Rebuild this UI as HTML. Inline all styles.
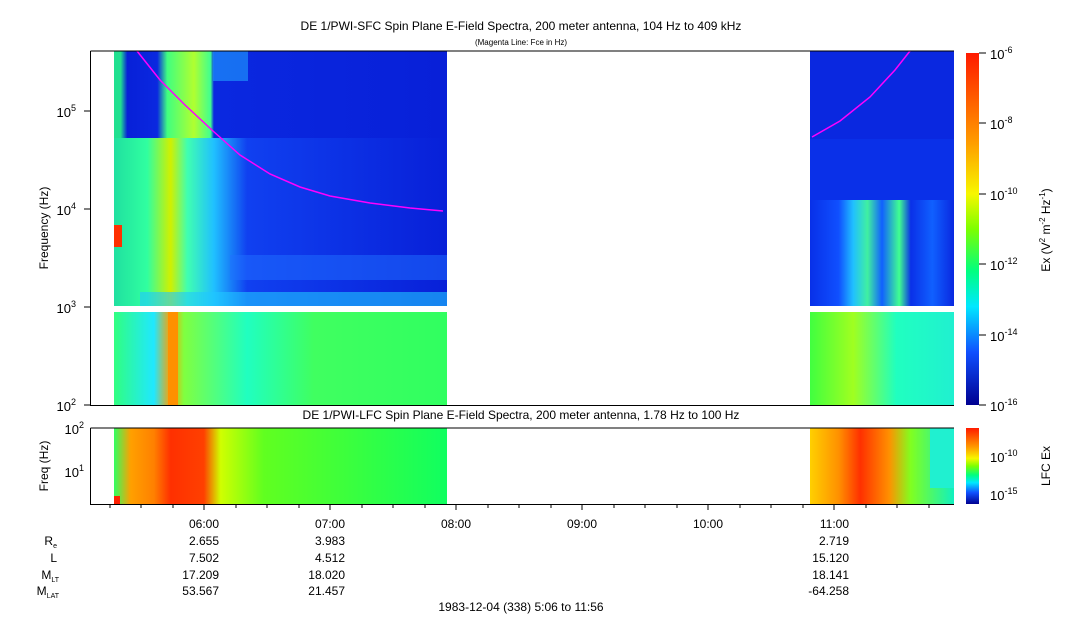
<!DOCTYPE html>
<html><head><meta charset="utf-8"><style>
body{margin:0;background:#fff;}
svg text{font-family:"Liberation Sans",sans-serif;fill:#000;}
</style></head><body>
<svg width="1083" height="620" viewBox="0 0 1083 620" xmlns="http://www.w3.org/2000/svg">
<defs>
<linearGradient id="cb" x1="0" y1="0" x2="0" y2="1">
<stop offset="0" stop-color="#ff1a00"/><stop offset="0.25" stop-color="#ff9a00"/>
<stop offset="0.4" stop-color="#f7f700"/><stop offset="0.5" stop-color="#7dff00"/>
<stop offset="0.62" stop-color="#00ff80"/><stop offset="0.72" stop-color="#00e8ff"/>
<stop offset="0.85" stop-color="#1050ff"/><stop offset="1" stop-color="#000090"/></linearGradient>
<linearGradient id="lowL" x1="0" y1="0" x2="1" y2="0">
<stop offset="0" stop-color="#30ff60"/><stop offset="0.05" stop-color="#ffa000"/><stop offset="0.12" stop-color="#ff8000"/>
<stop offset="0.17" stop-color="#ff3000"/><stop offset="0.27" stop-color="#ff4000"/><stop offset="0.32" stop-color="#d0ff00"/>
<stop offset="0.45" stop-color="#60ff20"/><stop offset="1" stop-color="#10ff60"/></linearGradient>
<linearGradient id="lowR" x1="0" y1="0" x2="1" y2="0">
<stop offset="0" stop-color="#ffd000"/><stop offset="0.2" stop-color="#ff9000"/><stop offset="0.35" stop-color="#ff3000"/>
<stop offset="0.55" stop-color="#ff9000"/><stop offset="0.7" stop-color="#80ff20"/><stop offset="1" stop-color="#10f0c0"/></linearGradient>
<linearGradient id="midL" x1="0" y1="0" x2="1" y2="0">
<stop offset="0" stop-color="#20e0a0"/><stop offset="0.1" stop-color="#30ffa0"/><stop offset="0.17" stop-color="#d0f000"/>
<stop offset="0.22" stop-color="#40ffb0"/><stop offset="0.3" stop-color="#20c0ff"/><stop offset="0.4" stop-color="#1040f0"/><stop offset="1" stop-color="#0820d8"/></linearGradient>
<linearGradient id="botL" x1="0" y1="0" x2="1" y2="0">
<stop offset="0" stop-color="#30ff80"/><stop offset="0.12" stop-color="#20e8ff"/><stop offset="0.17" stop-color="#ffa000"/>
<stop offset="0.21" stop-color="#80ff40"/><stop offset="0.4" stop-color="#20ffc0"/><stop offset="0.6" stop-color="#40ff60"/><stop offset="1" stop-color="#30ff60"/></linearGradient>
<linearGradient id="botR" x1="0" y1="0" x2="1" y2="0">
<stop offset="0" stop-color="#40ff40"/><stop offset="0.3" stop-color="#a0ff20"/><stop offset="0.6" stop-color="#20ffc0"/><stop offset="1" stop-color="#20f0d0"/></linearGradient>
<linearGradient id="topL" x1="0" y1="0" x2="1" y2="0">
<stop offset="0" stop-color="#20e090"/><stop offset="0.02" stop-color="#20e090"/><stop offset="0.04" stop-color="#0820d8"/><stop offset="0.13" stop-color="#0a28e0"/>
<stop offset="0.16" stop-color="#40ff80"/><stop offset="0.24" stop-color="#b0ff30"/><stop offset="0.29" stop-color="#40ff90"/><stop offset="0.3" stop-color="#0a28e0"/><stop offset="1" stop-color="#0820d8"/></linearGradient>
<linearGradient id="midR" x1="0" y1="0" x2="1" y2="0">
<stop offset="0" stop-color="#0830e8"/><stop offset="0.2" stop-color="#1050ff"/><stop offset="0.3" stop-color="#20c0ff"/><stop offset="0.4" stop-color="#40f0a0"/>
<stop offset="0.5" stop-color="#1060ff"/><stop offset="0.62" stop-color="#40ff90"/><stop offset="0.7" stop-color="#0a30e8"/><stop offset="0.85" stop-color="#1060ff"/><stop offset="1" stop-color="#0a28e0"/></linearGradient>
</defs>
<text x="521" y="30" font-size="12" text-anchor="middle">DE 1/PWI-SFC  Spin Plane E-Field Spectra, 200 meter antenna, 104 Hz to 409 kHz</text>
<text x="521" y="45" font-size="8" text-anchor="middle">(Magenta Line: Fce in Hz)</text>
<rect x="114" y="51" width="333" height="87" fill="url(#topL)"/>
<rect x="213" y="51" width="35" height="30" fill="#20a0ff" opacity="0.6"/>
<rect x="114" y="138" width="333" height="168" fill="url(#midL)"/>
<rect x="230" y="255" width="217" height="25" fill="#2070ff" opacity="0.5"/>
<rect x="140" y="292" width="307" height="14" fill="#20c8ff" opacity="0.6"/>
<rect x="114" y="225" width="8" height="22" fill="#ff3000"/>
<rect x="114" y="312" width="333" height="93" fill="url(#botL)"/>
<rect x="168" y="312" width="10" height="93" fill="#ff9000"/>
<rect x="810" y="51" width="144" height="88" fill="#0a28e0"/>
<rect x="810" y="139" width="144" height="167" fill="#0a30e8"/>
<rect x="810" y="200" width="144" height="106" fill="url(#midR)"/>
<rect x="810" y="312" width="144" height="93" fill="url(#botR)"/>
<polyline points="137,51 160,80 185,105 213,131 240,155 270,174 300,187 330,196 370,203 410,208 443,211" fill="none" stroke="#ff00ff" stroke-width="1.5"/>
<polyline points="812,137 840,121 870,97 895,70 910,51" fill="none" stroke="#ff00ff" stroke-width="1.5"/>
<path d="M90.5,51 V405.5 H954 M90.5,51 H954" fill="none" stroke="#000"/>
<g stroke="#000">
<line x1="84" y1="111" x2="90" y2="111"/><line x1="84" y1="209" x2="90" y2="209"/><line x1="84" y1="307" x2="90" y2="307"/><line x1="84" y1="405" x2="90" y2="405"/>
</g>
<g font-size="13" text-anchor="end">
<text x="76" y="117">10<tspan dy="-6" font-size="9">5</tspan></text>
<text x="76" y="215">10<tspan dy="-6" font-size="9">4</tspan></text>
<text x="76" y="313">10<tspan dy="-6" font-size="9">3</tspan></text>
<text x="76" y="411">10<tspan dy="-6" font-size="9">2</tspan></text>
</g>
<text transform="translate(48,228) rotate(-90)" font-size="12" text-anchor="middle">Frequency (Hz)</text>
<rect x="966" y="53" width="13" height="352" fill="url(#cb)"/>
<g stroke="#000"><line x1="979" y1="53" x2="986" y2="53"/><line x1="979" y1="123" x2="986" y2="123"/><line x1="979" y1="194" x2="986" y2="194"/><line x1="979" y1="264" x2="986" y2="264"/><line x1="979" y1="335" x2="986" y2="335"/><line x1="979" y1="405" x2="986" y2="405"/></g>
<g font-size="13">
<text x="990" y="59">10<tspan dy="-6" font-size="9">-6</tspan></text>
<text x="990" y="129">10<tspan dy="-6" font-size="9">-8</tspan></text>
<text x="990" y="200">10<tspan dy="-6" font-size="9">-10</tspan></text>
<text x="990" y="270">10<tspan dy="-6" font-size="9">-12</tspan></text>
<text x="990" y="341">10<tspan dy="-6" font-size="9">-14</tspan></text>
<text x="990" y="411">10<tspan dy="-6" font-size="9">-16</tspan></text>
</g>
<text transform="translate(1050,230) rotate(-90)" font-size="12" text-anchor="middle">Ex (V<tspan dy="-5" font-size="8">2</tspan><tspan dy="5"> m</tspan><tspan dy="-5" font-size="8">-2</tspan><tspan dy="5"> Hz</tspan><tspan dy="-5" font-size="8">-1</tspan><tspan dy="5">)</tspan></text>
<text x="521" y="419" font-size="12" text-anchor="middle">DE 1/PWI-LFC  Spin Plane E-Field Spectra, 200 meter antenna, 1.78 Hz to 100 Hz</text>
<rect x="114" y="428" width="333" height="76" fill="url(#lowL)"/>
<rect x="114" y="496" width="6" height="8" fill="#ff2000"/>
<rect x="810" y="428" width="144" height="76" fill="url(#lowR)"/>
<rect x="930" y="428" width="24" height="60" fill="#20f0d0"/>
<path d="M90.5,428 V504.5 H954 M90.5,428 H954" fill="none" stroke="#000"/>
<g font-size="13" text-anchor="end">
<text x="84" y="434">10<tspan dy="-6" font-size="9">2</tspan></text>
<text x="84" y="477">10<tspan dy="-6" font-size="9">1</tspan></text>
</g>
<text transform="translate(48,466) rotate(-90)" font-size="12" text-anchor="middle">Freq (Hz)</text>
<rect x="966" y="428" width="13" height="76" fill="url(#cb)"/>
<g font-size="13"><text x="990" y="462">10<tspan dy="-6" font-size="9">-10</tspan></text><text x="990" y="500">10<tspan dy="-6" font-size="9">-15</tspan></text></g>
<text transform="translate(1050,466) rotate(-90)" font-size="12" text-anchor="middle">LFC Ex</text>
<g stroke="#000">
<line x1="110" y1="504" x2="110" y2="508"/><line x1="141" y1="504" x2="141" y2="508"/><line x1="173" y1="504" x2="173" y2="508"/><line x1="204" y1="504" x2="204" y2="510"/>
<line x1="236" y1="504" x2="236" y2="508"/><line x1="267" y1="504" x2="267" y2="508"/><line x1="299" y1="504" x2="299" y2="508"/><line x1="330" y1="504" x2="330" y2="510"/>
<line x1="362" y1="504" x2="362" y2="508"/><line x1="393" y1="504" x2="393" y2="508"/><line x1="425" y1="504" x2="425" y2="508"/><line x1="456" y1="504" x2="456" y2="510"/>
<line x1="488" y1="504" x2="488" y2="508"/><line x1="519" y1="504" x2="519" y2="508"/><line x1="551" y1="504" x2="551" y2="508"/><line x1="582" y1="504" x2="582" y2="510"/>
<line x1="614" y1="504" x2="614" y2="508"/><line x1="645" y1="504" x2="645" y2="508"/><line x1="677" y1="504" x2="677" y2="508"/><line x1="708" y1="504" x2="708" y2="510"/>
<line x1="740" y1="504" x2="740" y2="508"/><line x1="771" y1="504" x2="771" y2="508"/><line x1="803" y1="504" x2="803" y2="508"/><line x1="834" y1="504" x2="834" y2="510"/>
<line x1="866" y1="504" x2="866" y2="508"/><line x1="897" y1="504" x2="897" y2="508"/><line x1="929" y1="504" x2="929" y2="508"/>
</g>
<g font-size="12" text-anchor="end">
<text x="219" y="528">06:00</text><text x="345" y="528">07:00</text><text x="471" y="528">08:00</text><text x="597" y="528">09:00</text><text x="723" y="528">10:00</text><text x="849" y="528">11:00</text>
<text x="219" y="545">2.655</text><text x="345" y="545">3.983</text><text x="849" y="545">2.719</text>
<text x="219" y="562">7.502</text><text x="345" y="562">4.512</text><text x="849" y="562">15.120</text>
<text x="219" y="579">17.209</text><text x="345" y="579">18.020</text><text x="849" y="579">18.141</text>
<text x="219" y="595">53.567</text><text x="345" y="595">21.457</text><text x="849" y="595">-64.258</text>
<text x="57" y="545">R<tspan font-size="7" dy="3">e</tspan></text>
<text x="57" y="562">L</text>
<text x="59" y="579">M<tspan font-size="7" dy="3">LT</tspan></text>
<text x="59" y="595">M<tspan font-size="7" dy="3">LAT</tspan></text>
</g>
<text x="521" y="611" font-size="12" text-anchor="middle">1983-12-04 (338) 5:06 to 11:56</text>
</svg>
</body></html>
